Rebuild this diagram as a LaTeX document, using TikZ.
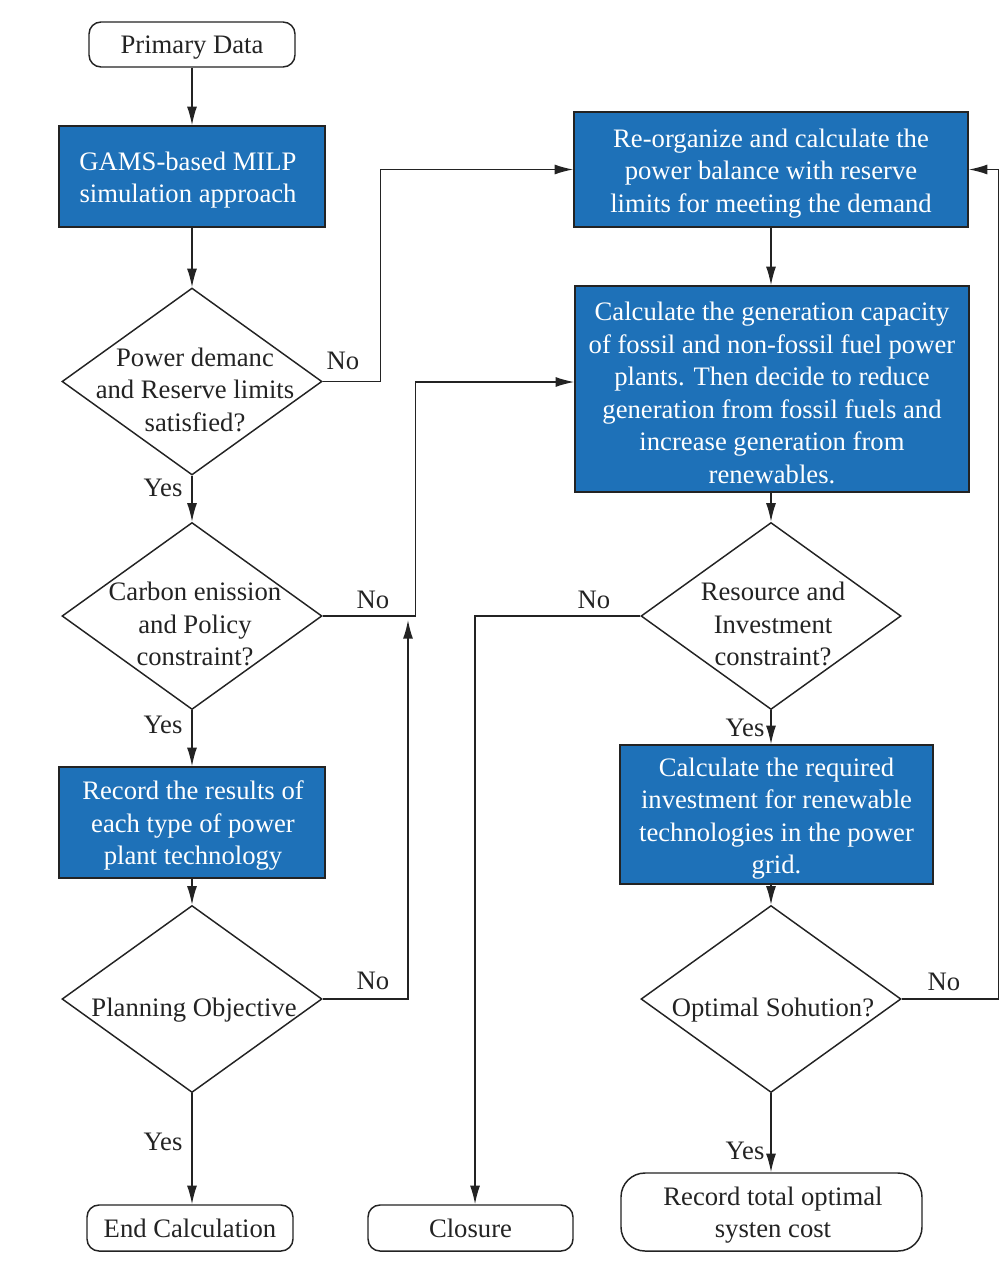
\documentclass[tikz,border=0pt]{standalone}
\usepackage{fontspec}
\setmainfont{Liberation Serif}
\usetikzlibrary{shapes.geometric,arrows.meta}
\definecolor{boxblue}{RGB}{30,113,184}
\definecolor{edgec}{RGB}{35,35,35}
\begin{document}
\begin{tikzpicture}[x=0.75pt,y=-0.75pt,
 every node/.style={font=\fontsize{20}{24.4}\selectfont, text=edgec},
 bluebox/.style={draw=edgec, fill=boxblue, line width=1.1pt, inner sep=0pt},
 term/.style={draw=edgec, rounded corners=9pt, line width=1.1pt, inner sep=0pt},
 dia/.style={draw=edgec, diamond, line width=1.1pt, inner sep=0pt, minimum width=195pt, minimum height=140.25pt},
 wtext/.style={align=center, inner sep=0pt, text=white},
 dtext/.style={align=center, inner sep=0pt},
 lbl/.style={inner sep=0pt},
 conn/.style={draw=edgec, line width=1.1pt, -{Latex[length=14pt,width=7.5pt]}},
]
\useasboundingbox (0,0) rectangle (999,1270);

% boxes and shapes
\node[term, minimum width=154.5pt, minimum height=33.75pt] (pd) at (192,44.5) {};
\node[bluebox, minimum width=199.5pt, minimum height=75.75pt] (gams) at (192,176.5) {};
\node[dia] (d1) at (192,381.5) {};
\node[dia] (d2) at (192,616) {};
\node[bluebox, minimum width=199.5pt, minimum height=83.25pt] (rec) at (192,822.5) {};
\node[dia] (d3) at (192,999) {};
\node[term, minimum width=154.5pt, minimum height=34.5pt] (endc) at (190,1228) {};
\node[term, minimum width=153.75pt, minimum height=34.5pt] (clos) at (470.5,1228) {};
\node[bluebox, minimum width=295.5pt, minimum height=86.25pt] (reorg) at (771,169.5) {};
\node[bluebox, minimum width=295.5pt, minimum height=154.5pt] (cgen) at (772,389) {};
\node[dia] (d4) at (771,616) {};
\node[bluebox, minimum width=234.75pt, minimum height=104.25pt] (cinv) at (776.5,814.5) {};
\node[dia] (d5) at (771,999) {};
\node[term, rounded corners=18pt, minimum width=225.75pt, minimum height=58.5pt] (rtot) at (771.5,1212) {};

% texts
\node[dtext] (pdt) at (192,47.5) {Primary Data};
\node[wtext] (gamst) at (188,180) {GAMS-based MILP\\simulation approach};
\node[dtext] (d1t) at (195,389.5) {Power demanc\\and Reserve limits\\satisfied?};
\node[dtext] (d2t) at (195,624) {Carbon enission\\and Policy\\constraint?};
\node[wtext] (rect) at (193,825.5) {Record the results of\\each type of power\\plant technology};
\node[dtext] (d3t) at (194,1010) {Planning Objective};
\node[dtext] (endt) at (190,1228) {End Calculation};
\node[dtext] (clost) at (470.5,1228) {Closure};
\node[wtext] (reorgt) at (771,173.5) {Re-organize and calculate the\\power balance with reserve\\limits for meeting the demand};
\node[wtext] (cgent) at (772,393) {Calculate the generation capacity\\of fossil and non-fossil fuel power\\plants. Then decide to reduce\\generation from fossil fuels and\\increase generation from\\renewables.};
\node[dtext] (d4t) at (773,624) {Resource and\\Investment\\constraint?};
\node[wtext] (cinvt) at (776.5,818.5) {Calculate the required\\investment for renewable\\technologies in the power\\grid.};
\node[dtext] (d5t) at (773,1010) {Optimal Sohution?};
\node[dtext] (rtott) at (773,1215) {Record total optimal\\systen cost};

\coordinate (m3) at (408,620);

% connectors
\draw[conn] (pd) -- (gams);
\draw[conn] (gams) -- (d1);
\draw[conn] (d1) -- (d2);
\draw[conn] (d1.east) -- ++(58,0) |- (reorg.west);
\draw[conn] (d2.east) -- ++(93,0) |- ([yshift=5.25pt]cgen.west);
\draw[conn] (d2) -- (rec);
\draw[conn] (rec) -- (d3);
\draw[conn] (d3.east) -| (m3);
\draw[conn] (d3.south) -- (d3.south |- endc.north);
\draw[conn] (reorg.south) -- (reorg.south |- cgen.north);
\draw[conn] (cgen.south -| d4.north) -- (d4.north);
\draw[conn] (d4.west) -| ([xshift=3.4pt]clos.north);
\draw[conn] (d4.south) -- (d4.south |- cinv.north);
\draw[conn] (cinv.south -| d5.north) -- (d5.north);
\draw[conn] (d5.east) -- ++(97,0) |- (reorg.east);
\draw[conn] (d5.south) -- (d5.south |- rtot.north);

% labels
\node[lbl] (n1) at (343,361) {No};
\node[lbl] (y1) at (163,488) {Yes};
\node[lbl] (n2) at (373,600) {No};
\node[lbl] (y2) at (163,725) {Yes};
\node[lbl] (n3) at (373,981) {No};
\node[lbl] (y3) at (163,1142) {Yes};
\node[lbl] (n4) at (594,600) {No};
\node[lbl] (y4) at (745,728) {Yes};
\node[lbl] (n5) at (944,982) {No};
\node[lbl] (y5) at (745,1151) {Yes};
\end{tikzpicture}
\end{document}
